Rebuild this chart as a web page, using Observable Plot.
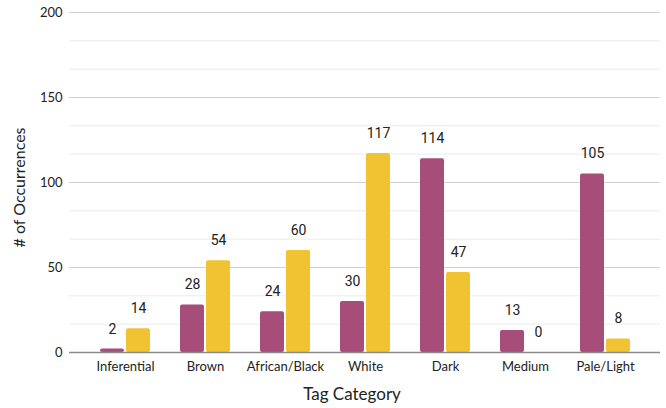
<!DOCTYPE html>
<html>
<head>
<meta charset="utf-8">
<script src="https://cdn.jsdelivr.net/npm/d3@7"></script>
<script src="https://cdn.jsdelivr.net/npm/@observablehq/plot@0.6"></script>
<style>
  html, body { margin: 0; padding: 0; background: #fff; }
</style>
</head>
<body>
<div id="chart"></div>
<script>
// Tag categories and the two counts per category
const categories = ["Inferential", "Brown", "African/Black", "White", "Dark", "Medium", "Pale/Light"];
const countsA = [2, 28, 24, 30, 114, 13, 105];
const countsB = [14, 54, 60, 117, 47, 0, 8];

// Y axis ticks (major gridlines) and the lighter subdivisions between them
const yTicks = [0, 50, 100, 150, 200];
const yMinor = d3.range(0, 200, 50 / 3).filter((v, i) => i % 3 !== 0);

const colorA = "#a64d79";
const colorB = "#f1c232";

const rowsA = categories.map((c, i) => ({category: c, value: countsA[i]}));
const rowsB = categories.map((c, i) => ({category: c, value: countsB[i]}));

const chart = Plot.plot({
  width: 666,
  height: 408,
  marginTop: 12,
  marginBottom: 56,
  marginLeft: 69,
  marginRight: 6,
  style: {fontFamily: "Lato, 'Open Sans', sans-serif", fontSize: "13px", background: "#fff", color: "#222"},
  x: {type: "band", domain: categories, paddingInner: 0.38, paddingOuter: 0.35, axis: null},
  y: {domain: [0, 200], axis: null},
  marks: [
    Plot.ruleY(yMinor, {stroke: "#ebebeb", strokeWidth: 1}),
    Plot.ruleY(yTicks.filter(v => v !== 0), {stroke: "#d2d2d2", strokeWidth: 1}),
    Plot.barY(rowsA, {x: "category", y: "value", fill: colorA, insetRight: 26, rx: 2}),
    Plot.barY(rowsB, {x: "category", y: "value", fill: colorB, insetLeft: 26, rx: 2}),
    Plot.ruleY([0], {stroke: "#8a8a8a", strokeWidth: 1.5}),
    Plot.text(rowsA, {x: "category", y: "value", text: d => String(d.value), dx: -13, dy: -20,
      fontFamily: "Roboto, sans-serif", fontSize: 14, fill: "#222"}),
    Plot.text(rowsB, {x: "category", y: "value", text: d => String(d.value), dx: 13, dy: -20,
      fontFamily: "Roboto, sans-serif", fontSize: 14, fill: "#222"}),
    Plot.axisY({ticks: yTicks, tickSize: 0, tickPadding: 7, label: null, fontSize: 13}),
    Plot.axisX({tickSize: 0, tickPadding: 9, label: null, fontSize: 13}),
    Plot.text(["Tag Category"], {frameAnchor: "bottom", dy: 47, dx: -13, fontSize: 17, fill: "#222"}),
    Plot.text(["# of Occurrences"], {frameAnchor: "left", textAnchor: "middle", dx: -50, dy: 5, rotate: -90, fontSize: 16, fill: "#222"})
  ]
});

document.getElementById("chart").appendChild(chart);
</script>
</body>
</html>
